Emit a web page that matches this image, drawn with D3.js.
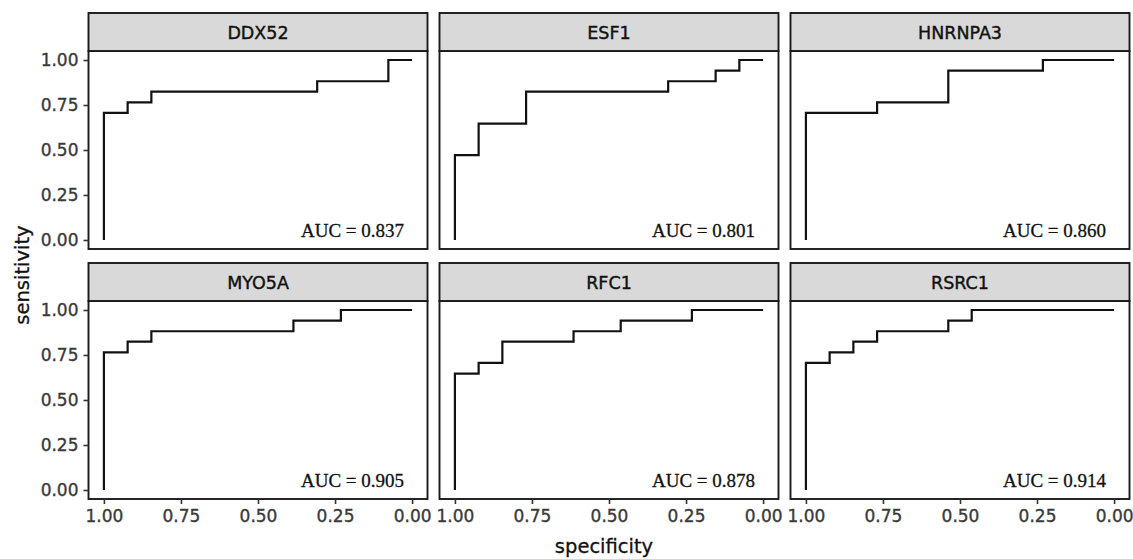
<!DOCTYPE html>
<html>
<head>
<meta charset="utf-8">
<script src="https://cdn.jsdelivr.net/npm/d3@7"></script>
<style>
  html, body { margin: 0; padding: 0; background: #fff; }
  svg { display: block; }
</style>
</head>
<body>
<svg id="chart" width="1133" height="559"></svg>
<script>
// ---- data ----
const genes = ["DDX52", "ESF1", "HNRNPA3", "MYO5A", "RFC1", "RSRC1"];
const aucLabels = ["0.837", "0.801", "0.860", "0.905", "0.878", "0.914"];

const ddx52Spec = [1, 1, 0.923, 0.846, 0.308, 0.077, 0];
const ddx52Sens = [0, 0.706, 0.765, 0.824, 0.882, 1, 1];

const esf1Spec = [1, 1, 0.923, 0.769, 0.308, 0.154, 0.077, 0];
const esf1Sens = [0, 0.471, 0.647, 0.824, 0.882, 0.941, 1, 1];

const hnrnpa3Spec = [1, 1, 0.769, 0.538, 0.231, 0];
const hnrnpa3Sens = [0, 0.706, 0.765, 0.941, 1, 1];

const myo5aSpec = [1, 1, 0.923, 0.846, 0.385, 0.231, 0];
const myo5aSens = [0, 0.765, 0.824, 0.882, 0.941, 1, 1];

const rfc1Spec = [1, 1, 0.923, 0.846, 0.615, 0.462, 0.231, 0];
const rfc1Sens = [0, 0.647, 0.706, 0.824, 0.882, 0.941, 1, 1];

const rsrc1Spec = [1, 1, 0.923, 0.846, 0.769, 0.538, 0.462, 0];
const rsrc1Sens = [0, 0.706, 0.765, 0.824, 0.882, 0.941, 1, 1];

const xTicks = [1.00, 0.75, 0.50, 0.25, 0.00];
const yTicks = [0.00, 0.25, 0.50, 0.75, 1.00];

const specs = [ddx52Spec, esf1Spec, hnrnpa3Spec, myo5aSpec, rfc1Spec, rsrc1Spec];
const senss = [ddx52Sens, esf1Sens, hnrnpa3Sens, myo5aSens, rfc1Sens, rsrc1Sens];

// ---- layout ----
const svg = d3.select("#chart");
const panelLeft0 = 88.5, panelPitchX = 351, panelW = 339;
const stripTop0 = 13, panelPitchY = 250, stripH = 38, panelH = 198;
const sansFont = "'DejaVu Sans', 'Liberation Sans', Arial, sans-serif";
const serifFont = "'Liberation Serif', 'Times New Roman', serif";

genes.forEach((g, i) => {
  const col = i % 3, row = Math.floor(i / 3);
  const left = panelLeft0 + col * panelPitchX;
  const stripTop = stripTop0 + row * panelPitchY;
  const top = stripTop + stripH;

  const x = d3.scaleLinear().domain([1.05, -0.05]).range([left, left + panelW]);
  const y = d3.scaleLinear().domain([-0.05, 1.05]).range([top + panelH, top]);

  const gp = svg.append("g");

  gp.append("rect").attr("x", left).attr("y", top).attr("width", panelW).attr("height", panelH)
    .attr("fill", "#fff");

  // ROC curve
  const pts = specs[i].map((s, k) => [s, senss[i][k]]);
  const line = d3.line().x(d => x(d[0])).y(d => y(d[1])).curve(d3.curveStepAfter);
  gp.append("path").attr("d", line(pts)).attr("fill", "none")
    .attr("stroke", "#111").attr("stroke-width", 2.2);

  // AUC annotation
  gp.append("text")
    .attr("x", x(0.026)).attr("y", y(0.055))
    .attr("text-anchor", "end").attr("dominant-baseline", "central")
    .attr("font-family", serifFont).attr("font-size", 19).attr("fill", "#111")
    .attr("stroke", "#111").attr("stroke-width", 0.3)
    .text("AUC = " + aucLabels[i]);

  // panel border
  gp.append("rect").attr("x", left).attr("y", top).attr("width", panelW).attr("height", panelH)
    .attr("fill", "none").attr("stroke", "#1a1a1a").attr("stroke-width", 1.9);

  // strip
  gp.append("rect").attr("x", left).attr("y", stripTop).attr("width", panelW).attr("height", stripH)
    .attr("fill", "#d9d9d9").attr("stroke", "#1a1a1a").attr("stroke-width", 1.9);
  gp.append("text")
    .attr("x", left + panelW / 2).attr("y", stripTop + stripH / 2 + 1)
    .attr("text-anchor", "middle").attr("dominant-baseline", "central")
    .attr("font-family", sansFont).attr("font-size", 17.5).attr("fill", "#111")
    .attr("stroke", "#111").attr("stroke-width", 0.4)
    .text(g);

  // axes
  if (col === 0) {
    const ya = d3.axisLeft(y).tickValues(yTicks).tickFormat(d3.format(".2f")).tickSize(5).tickPadding(5);
    const ga = gp.append("g").attr("transform", `translate(${left},0)`).call(ya);
    ga.select(".domain").remove();
    ga.selectAll("line").attr("stroke", "#333").attr("stroke-width", 1.6);
    ga.selectAll("text").attr("font-family", sansFont).attr("font-size", 17).attr("fill", "#3a3a3a")
      .attr("stroke", "#3a3a3a").attr("stroke-width", 0.35);
  }
  if (row === 1) {
    const xa = d3.axisBottom(x).tickValues(xTicks).tickFormat(d3.format(".2f")).tickSize(5).tickPadding(6);
    const ga = gp.append("g").attr("transform", `translate(0,${top + panelH})`).call(xa);
    ga.select(".domain").remove();
    ga.selectAll("line").attr("stroke", "#333").attr("stroke-width", 1.6);
    ga.selectAll("text").attr("font-family", sansFont).attr("font-size", 17).attr("fill", "#3a3a3a")
      .attr("stroke", "#3a3a3a").attr("stroke-width", 0.35);
  }
});

// axis titles
svg.append("text")
  .attr("transform", "translate(22,275) rotate(-90)")
  .attr("text-anchor", "middle").attr("dominant-baseline", "central")
  .attr("font-family", sansFont).attr("font-size", 19.5).attr("fill", "#111")
  .attr("stroke", "#111").attr("stroke-width", 0.3)
  .text("sensitivity");

svg.append("text")
  .attr("x", 604).attr("y", 553)
  .attr("text-anchor", "middle")
  .attr("font-family", sansFont).attr("font-size", 19.5).attr("fill", "#111")
  .attr("stroke", "#111").attr("stroke-width", 0.3)
  .text("specificity");
</script>
</body>
</html>
